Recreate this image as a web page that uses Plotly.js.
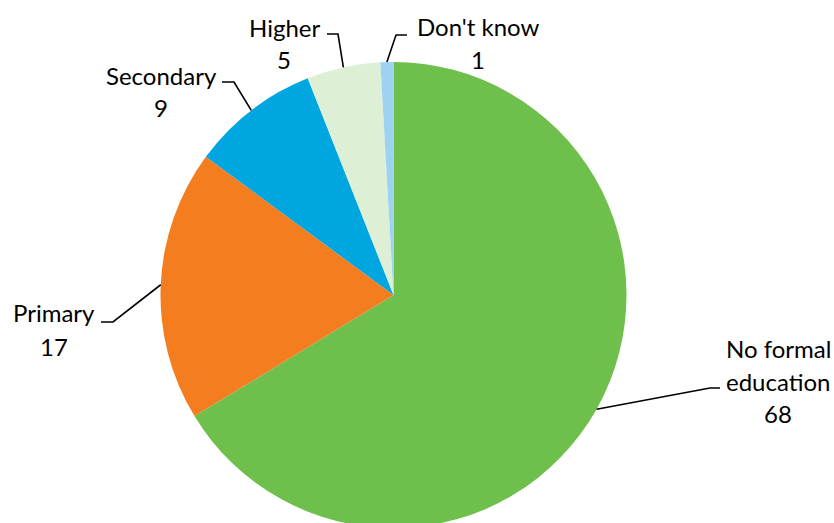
<!DOCTYPE html>
<html>
<head>
<meta charset="utf-8">
<script src="https://cdn.plot.ly/plotly-3.0.1.min.js"></script>
<style>
  html, body { margin: 0; padding: 0; overflow: hidden; background: #fff; }
  #chart { width: 834px; height: 600px; }
</style>
</head>
<body>
<div id="chart"></div>
<script>
// ---- data ----
const categories = ["No formal education", "Primary", "Secondary", "Higher", "Don't know"];
// slice shares as drawn in the picture (measured from slice angles)
const shares = [66.3, 18.8, 8.9, 5.1, 0.9];
// values printed on the data labels
const valueLabels = ["68", "17", "9", "5", "1"];
const labelLines = [["No formal", "education"], ["Primary"], ["Secondary"], ["Higher"], ["Don't know"]];
const colors = ["#6EBF4B", "#F47D20", "#00A6DF", "#DDEFD4", "#9DD3F0"];

// ---- layout helpers (pixel -> paper) ----
const W = 834, H = 600;
const CX = 393.5, CY = 295, R = 233;
const px = X => X / W;
const py = Y => 1 - Y / H;

// label placement (pixels): centre x, cap-middle y of first line
const labelPos = [
  {x: 778, y: 348},
  {x: 54,  y: 313},
  {x: 161, y: 75},
  {x: 284, y: 27},
  {x: 478, y: 26}
];
// leader lines: elbow and end (start is computed on the slice's mid-angle)
const leaderTail = [
  [[710, 388], [720, 388]],
  [[113, 322], [101, 322]],
  [[234, 82], [222, 82]],
  [[338, 34], [327, 34]],
  [[396, 35], [407, 35]]
];
const lineGap = 33;
const fontSpec = {family: "Lato, 'Open Sans', sans-serif", size: 24, color: "#000"};

const total = shares.reduce((a, b) => a + b, 0);
let cum = 0;
const starts = shares.map(v => {
  const mid = (cum + v / 2) / total;
  cum += v;
  const a = mid * 2 * Math.PI;
  return [CX + R * Math.sin(a), CY - R * Math.cos(a)];
});

const annotations = [];
categories.forEach((c, i) => {
  const lines = labelLines[i].concat([valueLabels[i]]);
  lines.forEach((t, k) => {
    annotations.push({
      x: px(labelPos[i].x), y: py(labelPos[i].y + k * lineGap),
      xref: "paper", yref: "paper", text: t, showarrow: false,
      xanchor: "center", yanchor: "middle", font: fontSpec
    });
  });
});

const shapes = leaderTail.map((tail, i) => {
  const pts = [starts[i]].concat(tail);
  return {
    type: "path", xref: "paper", yref: "paper",
    path: pts.map((p, k) => (k ? "L" : "M") + px(p[0]) + "," + py(p[1])).join(" "),
    line: {color: "#000", width: 1.6}
  };
});

const trace = {
  type: "pie",
  labels: categories,
  values: shares,
  sort: false,
  direction: "clockwise",
  rotation: 0,
  textinfo: "none",
  marker: {colors: colors, line: {width: 0}},
  domain: {x: [(CX - R) / W, (CX + R) / W], y: [(H - CY - R) / H, (H - CY + R) / H]},
  showlegend: false
};

Plotly.newPlot("chart", [trace], {
  width: W, height: H,
  margin: {l: 0, r: 0, t: 0, b: 0},
  paper_bgcolor: "#fff",
  showlegend: false,
  annotations: annotations,
  shapes: shapes
}, {displayModeBar: false, staticPlot: true});
</script>
</body>
</html>
